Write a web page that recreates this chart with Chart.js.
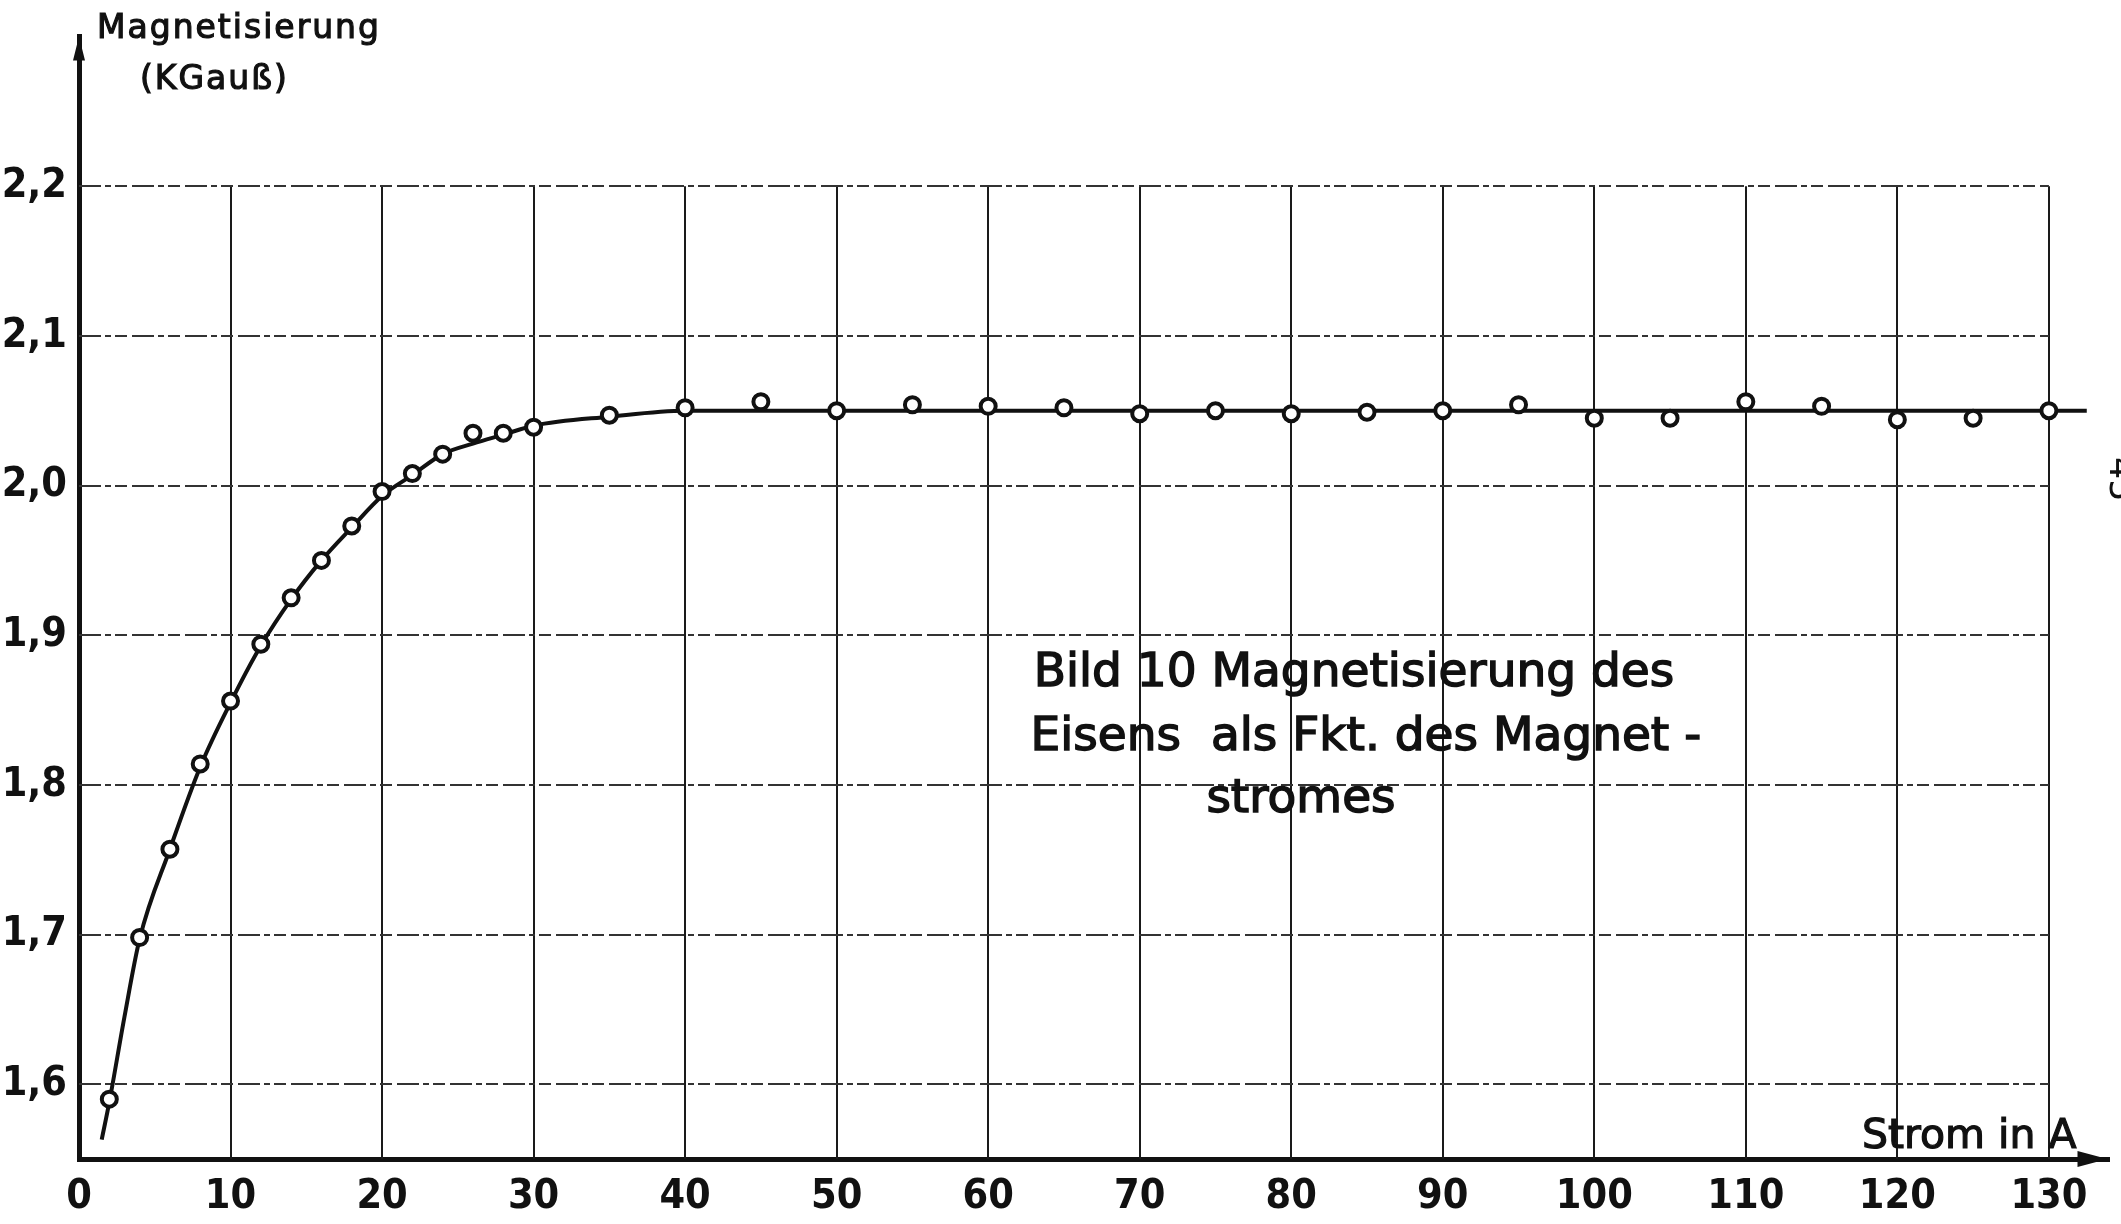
<!DOCTYPE html>
<html lang="de">
<head>
<meta charset="utf-8">
<title>Magnetisierung des Eisens</title>
<script src="https://cdn.jsdelivr.net/npm/chart.js@4.4.1/dist/chart.umd.min.js"></script>
<style>
  html, body { margin: 0; padding: 0; background: #fff; }
  canvas { display: block; }
</style>
</head>
<body>
<canvas id="magnetChart" width="2121" height="1224"></canvas>
<script>
// Messpunkte: Magnetstrom (A) und Magnetisierung (KGauß)
const stromA = [2, 4, 6, 8, 10, 12, 14, 16, 18, 20, 22, 24, 26, 28, 30, 35, 40, 45, 50,
                55, 60, 65, 70, 75, 80, 85, 90, 95, 100, 105, 110, 115, 120, 125, 130];
const magnetisierung = [1.590, 1.698, 1.757, 1.814, 1.856, 1.894, 1.925, 1.950, 1.973, 1.996,
                        2.008, 2.021, 2.035, 2.035, 2.039, 2.047, 2.052, 2.056, 2.050,
                        2.054, 2.053, 2.052, 2.048, 2.050, 2.048, 2.049, 2.050, 2.054, 2.045,
                        2.045, 2.056, 2.053, 2.044, 2.045, 2.050];

// Ausgleichskurve (von Hand gezogen)
const kurveStromA = [1.5, 2, 3, 4, 6, 8, 10, 12, 14, 16, 18, 20, 22, 24, 26, 28, 30, 35, 40, 132.5];
const kurveMagnet = [1.563, 1.588, 1.645, 1.697, 1.757, 1.812, 1.855, 1.893, 1.924, 1.950,
                     1.972, 1.993, 2.007, 2.021, 2.028, 2.034, 2.040, 2.046, 2.050, 2.050];

// Achsenteilung
const xTicks = [0, 10, 20, 30, 40, 50, 60, 70, 80, 90, 100, 110, 120, 130];
const yTicks = [1.6, 1.7, 1.8, 1.9, 2.0, 2.1, 2.2];

const tickFont = { family: '"Liberation Sans Narrow", "DejaVu Sans Condensed", sans-serif', size: 41, weight: 'bold' };
const textFont = '"DejaVu Sans", sans-serif';

// Text etwas kräftiger, wie mit Schablone geschrieben
function inkText(ctx, text, x, y) {
    ctx.fillText(text, x, y);
    ctx.strokeText(text, x, y);
}

// Millimeterpapier-Raster: nur bis 130 A bzw. 2,2 KGauß
const paperGrid = {
    id: 'paperGrid',
    beforeDatasetsDraw(chart) {
        const { ctx, scales: { x, y } } = chart;
        const xEnd = x.getPixelForValue(xTicks[xTicks.length - 1]);
        const yTop = y.getPixelForValue(yTicks[yTicks.length - 1]);
        const yBottom = y.getPixelForValue(y.min);
        ctx.save();
        ctx.strokeStyle = '#1a1a1a';

        // senkrechte Linien
        ctx.lineWidth = 2;
        xTicks.forEach(v => {
            if (v === 0) return;
            const px = Math.round(x.getPixelForValue(v));
            ctx.beginPath();
            ctx.moveTo(px, yBottom);
            ctx.lineTo(px, yTop);
            ctx.stroke();
        });

        // waagerechte Linien, leicht unterbrochen
        ctx.lineWidth = 1.8;
        ctx.strokeStyle = '#333';
        ctx.setLineDash([22, 4, 6, 4, 12, 5]);
        yTicks.forEach(v => {
            const py = Math.round(y.getPixelForValue(v));
            ctx.beginPath();
            ctx.moveTo(x.getPixelForValue(0), py);
            ctx.lineTo(xEnd, py);
            ctx.stroke();
        });
        ctx.restore();
    },
    afterDraw(chart) {
        const { ctx, chartArea, scales: { x, y } } = chart;
        const x0 = x.getPixelForValue(0);
        ctx.save();
        ctx.fillStyle = '#111';
        ctx.strokeStyle = '#111';

        // Pfeilspitzen an den Achsen
        ctx.beginPath();
        ctx.moveTo(x0, chartArea.top);
        ctx.lineTo(x0 - 6, chartArea.top + 24);
        ctx.lineTo(x0 + 6, chartArea.top + 24);
        ctx.closePath();
        ctx.fill();

        const xr = chartArea.right - 2;
        const yb = chartArea.bottom;
        ctx.beginPath();
        ctx.moveTo(xr, yb);
        ctx.lineTo(xr - 30, yb - 8);
        ctx.lineTo(xr - 30, yb + 8);
        ctx.closePath();
        ctx.fill();

        // Achsenbeschriftungen
        ctx.lineWidth = 1.2;
        ctx.textBaseline = 'alphabetic';
        ctx.textAlign = 'left';
        ctx.font = '33px ' + textFont;
        ctx.letterSpacing = '2px';
        inkText(ctx, 'Magnetisierung', x0 + 18, 38);
        inkText(ctx, '(KGauß)', x0 + 61, 89);
        ctx.letterSpacing = '0px';

        ctx.font = '41px ' + textFont;
        ctx.textAlign = 'right';
        inkText(ctx, 'Strom in A', chartArea.right - 33, chartArea.bottom - 11);

        // Bildunterschrift im Diagramm
        ctx.lineWidth = 1.5;
        ctx.textAlign = 'left';
        ctx.font = '47px ' + textFont;
        inkText(ctx, 'Bild 10 Magnetisierung des', x.getPixelForValue(63), y.getPixelForValue(1.866));
        inkText(ctx, 'Eisens  als Fkt. des Magnet -', x.getPixelForValue(62.8), y.getPixelForValue(1.823));
        inkText(ctx, 'stromes', x.getPixelForValue(74.4), y.getPixelForValue(1.782));

        // Seitenzahl am Rand
        ctx.font = '35px ' + textFont;
        ctx.translate(2110, 457);
        ctx.rotate(Math.PI / 2);
        ctx.fillText('45', 0, 0);
        ctx.restore();
    }
};

const ctx = document.getElementById('magnetChart');

new Chart(ctx, {
    type: 'scatter',
    data: {
        datasets: [
            {
                label: 'Messwerte',
                data: stromA.map((s, i) => ({ x: s, y: magnetisierung[i] })),
                showLine: false,
                pointStyle: 'circle',
                pointRadius: 7.5,
                pointBorderWidth: 4,
                pointBackgroundColor: '#fff',
                pointBorderColor: '#111',
                order: 0
            },
            {
                label: 'Kurve',
                data: kurveStromA.map((s, i) => ({ x: s, y: kurveMagnet[i] })),
                showLine: true,
                borderColor: '#111',
                borderWidth: 4,
                pointRadius: 0,
                cubicInterpolationMode: 'monotone',
                clip: false,
                order: 1
            }
        ]
    },
    plugins: [paperGrid],
    options: {
        responsive: false,
        animation: false,
        layout: { padding: { top: 15, right: 8, left: 0, bottom: 0 } },
        plugins: {
            legend: { display: false },
            tooltip: { enabled: false }
        },
        scales: {
            x: {
                type: 'linear',
                min: 0,
                max: 134,
                afterFit: scale => { scale.height = 65; },
                afterBuildTicks: scale => { scale.ticks = xTicks.map(v => ({ value: v })); },
                grid: { display: false, drawTicks: false },
                border: { display: true, color: '#111', width: 5 },
                ticks: {
                    color: '#111',
                    font: tickFont,
                    padding: 14,
                    maxRotation: 0,
                    autoSkip: false,
                    callback: v => String(v)
                }
            },
            y: {
                type: 'linear',
                min: 1.55,
                max: 2.3,
                afterFit: scale => { scale.width = 79; },
                afterBuildTicks: scale => { scale.ticks = yTicks.map(v => ({ value: v })); },
                grid: { display: false, drawTicks: false },
                border: { display: true, color: '#111', width: 5 },
                ticks: {
                    color: '#111',
                    font: tickFont,
                    padding: 12,
                    autoSkip: false,
                    callback: v => v.toFixed(1).replace('.', ',')
                }
            }
        }
    }
});
</script>
</body>
</html>
